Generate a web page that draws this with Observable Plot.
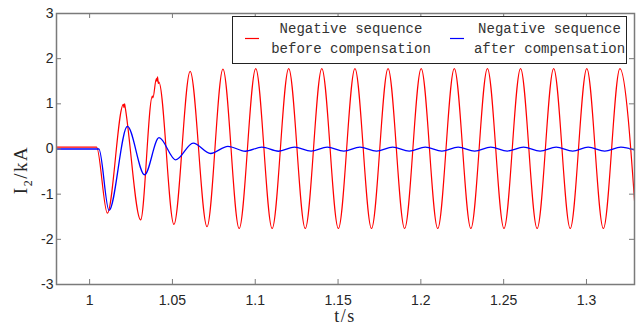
<!DOCTYPE html>
<html><head><meta charset="utf-8">
<script src="https://cdn.jsdelivr.net/npm/d3@7"></script>
<script src="https://cdn.jsdelivr.net/npm/@observablehq/plot@0.6"></script>
<style>body{margin:0;background:#fff} #chart{position:relative;width:636px;height:333px}</style>
</head><body><div id="chart"></div>
<script>
const xTicks = [1, 1.05, 1.1, 1.15, 1.2, 1.25, 1.3];
const yTicks = [-3, -2, -1, 0, 1, 2, 3];
const legendLabels = [["Negative sequence", "before compensation"], ["Negative sequence", "after compensation"]];
const seriesColors = ["#ff0000", "#0000ff"];
const xLabel = "t/s";

// Negative sequence current before compensation (red), read at turning points
const redT = [0.98, 1.0042, 1.0107, 1.0204, 1.0207, 1.0211, 1.0214, 1.0308,
  1.0379, 1.0382, 1.0403, 1.0406, 1.0410, 1.0415, 1.0418, 1.0509, 1.0607, 1.0709,
  1.0805, 1.0903, 1.1003, 1.1102, 1.1202, 1.1302, 1.1402, 1.1502, 1.1602, 1.1702, 1.1802,
  1.1902, 1.2002, 1.2102, 1.2202, 1.2302, 1.2402, 1.2502, 1.2602, 1.2702, 1.2802, 1.2902,
  1.3002, 1.3102, 1.3202, 1.3302];
const redV = [0.04, 0.04, -1.42, 0.99, 0.92, 1.00, 0.94, -1.57,
  1.17, 1.13, 1.56, 1.50, 1.60, 1.45, 1.48, -1.67, 1.72, -1.72,
  1.77, -1.76, 1.78, -1.76, 1.78, -1.76, 1.78, -1.76, 1.78, -1.76, 1.78,
  -1.76, 1.78, -1.76, 1.78, -1.76, 1.78, -1.76, 1.78, -1.76, 1.78, -1.76,
  1.78, -1.76, 1.78, -1.76];

// Negative sequence current after compensation (blue), read at turning points
const blueT = [0.98, 1.0056, 1.0117, 1.0228, 1.0332, 1.0419, 1.0520, 1.0625, 1.0730, 1.0835,
  1.0940, 1.1040, 1.1140, 1.1237, 1.1337, 1.1435, 1.1535, 1.1632, 1.1732, 1.1830, 1.1930,
  1.2027, 1.2127, 1.2225, 1.2325, 1.2422, 1.2522, 1.2620, 1.2720, 1.2817, 1.2917, 1.3010,
  1.3110, 1.3208, 1.3308];
const blueV = [0.0, 0.0, -1.36, 0.50, -0.57, 0.25, -0.24, 0.13, -0.10, 0.06,
  -0.05, 0.04, -0.05, 0.04, -0.045, 0.04, -0.045, 0.04, -0.045, 0.04, -0.045,
  0.04, -0.045, 0.04, -0.045, 0.04, -0.045, 0.04, -0.045, 0.04, -0.045, 0.04,
  -0.045, 0.04, -0.045];

const W = 636, H = 333, ML = 56, MR = 2, MT = 13, MB = 49;
const iw = W - ML - MR, ih = H - MT - MB;
const red = redT.map((t, i) => ({t, v: redV[i]}));
const blue = blueT.map((t, i) => ({t, v: blueV[i]}));
const axisColor = "#7a7a7a";

const plot = Plot.plot({
  width: W, height: H,
  marginLeft: ML, marginRight: MR, marginTop: MT, marginBottom: MB,
  style: {fontFamily: "'Liberation Sans', Arial, sans-serif", fontSize: "14px", color: "#262626", background: "#fff"},
  x: {domain: [0.98, 1.329]},
  y: {domain: [-3, 3]},
  marks: [
    Plot.line(red, {x: "t", y: "v", stroke: seriesColors[0], strokeWidth: 1.2, curve: "monotone-x", clip: true}),
    Plot.line(blue, {x: "t", y: "v", stroke: seriesColors[1], strokeWidth: 1.3, curve: "monotone-x", clip: true}),
    Plot.frame({stroke: axisColor, strokeWidth: 1.5}),
    Plot.tickY(yTicks, {y: d => d, stroke: axisColor, insetRight: iw - 5}),
    Plot.tickY(yTicks, {y: d => d, stroke: axisColor, insetLeft: iw - 5}),
    Plot.tickX(xTicks, {x: d => d, stroke: axisColor, insetTop: ih - 5}),
    Plot.tickX(xTicks, {x: d => d, stroke: axisColor, insetBottom: ih - 5}),
    Plot.axisX(xTicks, {tickSize: 0, tickPadding: 11, tickFormat: d => String(+d.toFixed(2)), label: null}),
    Plot.axisY(yTicks, {tickSize: 0, tickPadding: 3, tickFormat: d => String(d), label: null})
  ]
});
document.getElementById("chart").appendChild(plot);

const svg = d3.select(plot);
// axis titles
svg.append("text").attr("x", 345).attr("y", 322).attr("text-anchor", "middle")
  .style("font-family", "'Liberation Serif', 'Times New Roman', serif").style("font-size", "18px")
  .style("letter-spacing", "1.5px").attr("fill", "#262626").text(xLabel);
const yl = svg.append("text").attr("transform", "translate(27,170) rotate(-90)").attr("text-anchor", "middle")
  .style("font-family", "'Liberation Serif', 'Times New Roman', serif").style("font-size", "19px")
  .style("letter-spacing", "1.5px").attr("fill", "#262626");
yl.append("tspan").text("I");
yl.append("tspan").attr("dy", 5).style("font-size", "12px").text("2");
yl.append("tspan").attr("dy", -5).text("/kA");

// legend
const lg = svg.append("g");
lg.append("rect").attr("x", 232.5).attr("y", 16.5).attr("width", 394).attr("height", 47)
  .attr("fill", "#fff").attr("stroke", "#222").attr("stroke-width", 1);
const entries = [{x1: 245, cx: 351}, {x1: 450, cx: 549.5}];
entries.forEach((e, i) => {
  lg.append("line").attr("x1", e.x1).attr("x2", e.x1 + 14).attr("y1", 38.5).attr("y2", 38.5)
    .attr("stroke", seriesColors[i]).attr("stroke-width", 1.2);
  legendLabels[i].forEach((s, j) => {
    lg.append("text").attr("x", e.cx).attr("y", 33 + j * 20).attr("text-anchor", "middle")
      .style("font-family", "'Liberation Mono', 'DejaVu Sans Mono', monospace").style("font-size", "14px")
      .attr("fill", "#333").text(s);
  });
});
</script>
</body></html>
